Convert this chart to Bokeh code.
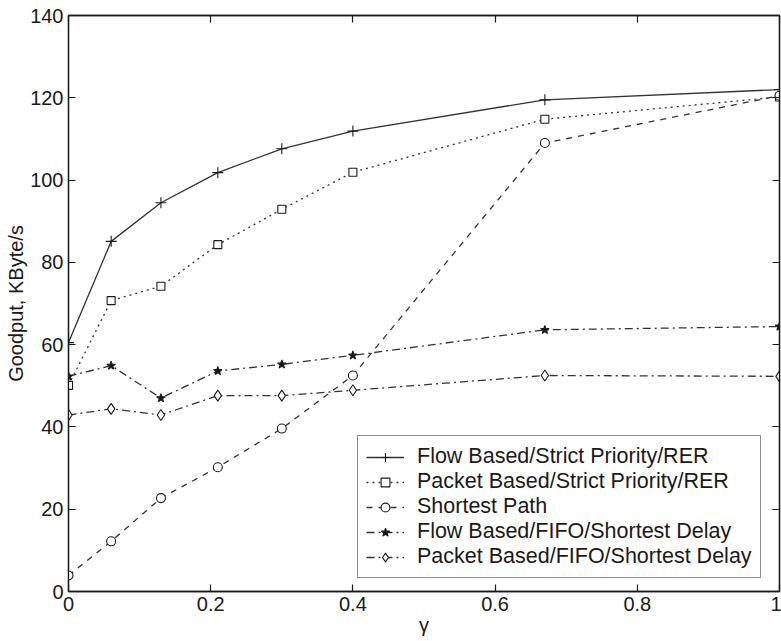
from bokeh.plotting import figure
from bokeh.models import Range1d, LinearAxis, Legend, LegendItem, FixedTicker
from bokeh.embed import file_html
from bokeh.resources import INLINE

gamma = [0.0, 0.06, 0.13, 0.21, 0.30, 0.40, 0.67, 1.0]
flow_rer = [60.5, 85.1, 94.5, 101.8, 107.6, 111.9, 119.5, 122.0]
packet_rer = [50.1, 70.7, 74.2, 84.3, 92.9, 101.9, 114.8, 120.2]
shortest_path = [3.9, 12.2, 22.7, 30.2, 39.6, 52.5, 109.0, 120.5]
flow_fifo = [52.3, 54.9, 47.0, 53.6, 55.2, 57.4, 63.6, 64.4]
packet_fifo = [42.9, 44.4, 42.9, 47.6, 47.6, 48.9, 52.5, 52.3]

labels = ["Flow Based/Strict Priority/RER",
          "Packet Based/Strict Priority/RER",
          "Shortest Path",
          "Flow Based/FIFO/Shortest Delay",
          "Packet Based/FIFO/Shortest Delay"]

x_ticks = [0, 0.2, 0.4, 0.6, 0.8, 1.0]
y_ticks = [0, 20, 40, 60, 80, 100, 120, 140]

FONT = "Liberation Sans"
INK = "#1a1a1a"

p = figure(width=781, height=641, output_backend="svg", toolbar_location=None,
           x_range=Range1d(0, 1), y_range=Range1d(0, 140),
           min_border_left=68, min_border_right=2, min_border_top=15, min_border_bottom=50)
p.background_fill_color = "white"
p.border_fill_color = "white"
p.outline_line_color = INK
p.outline_line_width = 1.3
p.grid.visible = False

def style_axis(ax, show_labels=True):
    ax.major_tick_in = 7
    ax.major_tick_out = 0
    ax.minor_tick_in = 0
    ax.minor_tick_out = 0
    ax.axis_line_color = INK
    ax.axis_line_width = 1.3
    ax.major_tick_line_color = INK
    ax.major_tick_line_width = 1.2
    ax.major_label_text_font = FONT
    ax.axis_label_text_font = FONT
    ax.axis_label_text_font_style = "normal"
    ax.axis_label_text_color = INK
    if show_labels:
        ax.major_label_text_color = INK
        ax.major_label_text_font_size = "20px"
        ax.major_label_standoff = 5
    else:
        ax.major_label_text_color = None
        ax.major_label_text_font_size = "1px"
        ax.major_label_standoff = 0

p.xaxis.ticker = FixedTicker(ticks=x_ticks)
p.yaxis.ticker = FixedTicker(ticks=y_ticks)
p.xaxis.major_label_overrides = {0: "0", 0.2: "0.2", 0.4: "0.4", 0.6: "0.6", 0.8: "0.8", 1.0: "1"}
style_axis(p.xaxis[0])
style_axis(p.yaxis[0])
p.xaxis.axis_label = "γ"
p.yaxis.axis_label = "Goodput, KByte/s"
p.xaxis.axis_label_text_font_size = "20px"
p.yaxis.axis_label_text_font_size = "20px"
p.xaxis.axis_label_standoff = 0
p.yaxis.axis_label_standoff = 0

top = LinearAxis(ticker=FixedTicker(ticks=x_ticks))
style_axis(top, False)
p.add_layout(top, "above")
right = LinearAxis(ticker=FixedTicker(ticks=y_ticks))
style_axis(right, False)
p.add_layout(right, "right")

series = [
    (flow_rer, "solid", "cross", 11, INK, "white"),
    (packet_rer, "dotted", "square", 8, INK, "white"),
    (shortest_path, "dashed", "circle", 9, INK, "white"),
    (flow_fifo, "8 4 2 4", "star", 9, INK, INK),
    (packet_fifo, "8 4 2 4", "diamond", 11, INK, "white"),
]

items = []
for (ys, dash, marker, size, lc, fc), lab in zip(series, labels):
    r1 = p.line(gamma, ys, line_color="#333333", line_width=1.3, line_dash=dash)
    r2 = p.scatter(gamma, ys, marker=marker, size=size, line_color=lc,
                   fill_color=fc, line_width=1.1)
    items.append(LegendItem(label=lab, renderers=[r1, r2]))

legend = Legend(items=items, location=(289, 13))
legend.label_text_font = FONT
legend.label_text_font_size = "21.5px"
legend.label_text_color = INK
legend.glyph_width = 38
legend.glyph_height = 22
legend.label_height = 22
legend.spacing = 0
legend.padding = 8
legend.margin = 0
legend.label_standoff = 13
legend.border_line_color = INK
legend.border_line_width = 1.2
legend.background_fill_alpha = 1.0
p.add_layout(legend, "center")

open("out.html", "w").write(file_html(p, INLINE))
